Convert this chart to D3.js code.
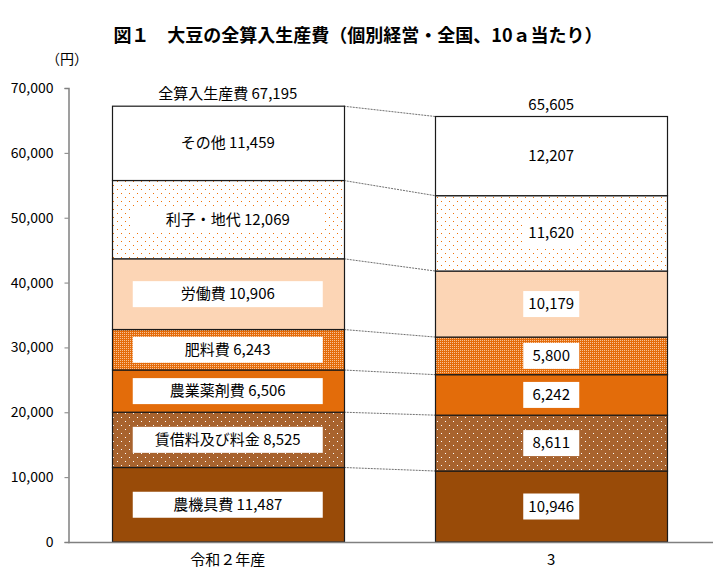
<!DOCTYPE html>
<html><head><meta charset="utf-8">
<script src="https://cdn.jsdelivr.net/npm/d3@7"></script>
<style>
body{margin:0;background:#fff}
text{font-family:"Noto Sans CJK JP","Noto Sans",sans-serif;fill:#000}
pattern rect{shape-rendering:crispEdges}
</style>
</head><body><svg id="c" width="722" height="585"></svg>
<script>
// ---- data ----
const years = ["令和２年産", "3"];
const categories = ["農機具費", "賃借料及び料金", "農業薬剤費", "肥料費", "労働費", "利子・地代", "その他"];
const valuesR2 = [11487, 8525, 6506, 6243, 10906, 12069, 11459];
const valuesR3 = [10946, 8611, 6242, 5800, 10179, 11620, 12207];
const totals = [67195, 65605];
const totalLabel = "全算入生産費";
const yTicks = [0, 10000, 20000, 30000, 40000, 50000, 60000, 70000];
const titleText = "図１　大豆の全算入生産費（個別経営・全国、10ａ当たり）";
const unitText = "（円）";
const fills = ["#994B08", "url(#pDotBrown)", "#E36C0A", "url(#pCheck)", "#FCD5B5", "url(#pDotOrange)", "#FFFFFF"];

// ---- setup ----
const svg = d3.select("#c");
const fmt = d3.format(",");
const y = d3.scaleLinear().domain([0, 70000]).range([542, 88]);
const x = d3.scaleBand().domain(years).range([66, 713]).paddingInner(0.2828).paddingOuter(0.1414);

// patterns
const defs = svg.append("defs");
function pixelPattern(id, w, h, bg, fg, pts) {
  const p = defs.append("pattern").attr("id", id).attr("patternUnits", "userSpaceOnUse")
    .attr("width", w).attr("height", h);
  p.append("rect").attr("width", w).attr("height", h).attr("fill", bg);
  pts.forEach(([a, b]) => p.append("rect").attr("x", a).attr("y", b).attr("width", 1).attr("height", 1).attr("fill", fg));
}
pixelPattern("pDotOrange", 8, 8, "#fff", "#F07208", [[1, 1], [5, 5]]);
pixelPattern("pDotBrown", 8, 8, "#A8632E", "#fff", [[1, 1], [5, 5]]);
pixelPattern("pCheck", 2, 2, "#E46C0A", "#F8C296", [[0, 0]]);

// title
svg.append("text").attr("x", 358).attr("y", 42).attr("text-anchor", "middle")
  .style("font-size", "18px").style("font-weight", "bold").text(titleText);
svg.append("text").attr("x", 67).attr("y", 64).attr("text-anchor", "middle")
  .style("font-size", "14px").text(unitText);

// axis
const yAxis = d3.axisLeft(y).tickValues(yTicks).tickSize(4).tickPadding(11).tickFormat(d => fmt(d));
const ga = svg.append("g").attr("transform", "translate(68.5,0)").call(yAxis);
ga.select(".domain").attr("stroke", "#808080").attr("stroke-width", 1.5);
ga.selectAll(".tick line").attr("stroke", "#808080");
ga.selectAll(".tick text").style("font-size", "14px").attr("fill", "#000");

// stacks
const series = [valuesR2, valuesR3];
const stacks = series.map(vals => {
  let c = 0;
  return vals.map((v, i) => { const s = { i, v, y0: c, y1: c + v }; c += v; return s; });
});

// connector lines
const xr = x(years[0]) + x.bandwidth();
const xl = x(years[1]);
for (let i = 0; i < categories.length; i++) {
  svg.append("line")
    .attr("x1", xr).attr("y1", y(stacks[0][i].y1))
    .attr("x2", xl).attr("y2", y(stacks[1][i].y1))
    .attr("stroke", "#707070").attr("stroke-width", 1).attr("stroke-dasharray", "2,1");
}

// bars
years.forEach((yr, k) => {
  const g = svg.append("g");
  g.selectAll("rect.seg").data(stacks[k]).join("rect")
    .attr("class", "seg")
    .attr("x", Math.round(x(yr)) + 0.5)
    .attr("width", Math.round(x.bandwidth()))
    .attr("y", d => y(d.y1))
    .attr("height", d => y(d.y0) - y(d.y1))
    .attr("fill", d => fills[d.i])
    .attr("stroke", "#1a1a1a").attr("stroke-width", 1.2);
  const cx = x(yr) + x.bandwidth() / 2;
  stacks[k].forEach(d => {
    const my = (y(d.y0) + y(d.y1)) / 2;
    const txt = k === 0 ? categories[d.i] + " " + fmt(d.v) : fmt(d.v);
    const bw = k === 0 ? 190 : 56;
    if (d.i !== 6) {
      g.append("rect").attr("x", cx - bw / 2).attr("y", my - 13).attr("width", bw).attr("height", 26)
        .attr("fill", "#fff");
    }
    g.append("text").attr("x", cx).attr("y", my + 5).attr("text-anchor", "middle")
      .style("font-size", "15px").text(txt);
  });
  svg.append("text").attr("x", cx).attr("y", y(totals[k]) - 7).attr("text-anchor", "middle")
    .style("font-size", "15px").text(k === 0 ? totalLabel + " " + fmt(totals[k]) : fmt(totals[k]));
  svg.append("text").attr("x", cx).attr("y", 565).attr("text-anchor", "middle")
    .style("font-size", "15px").text(yr);
});

// baseline
svg.append("line").attr("x1", 68).attr("x2", 713).attr("y1", y(0) + 0.5).attr("y2", y(0) + 0.5)
  .attr("stroke", "#808080").attr("stroke-width", 1.5);
</script>
</body></html>
